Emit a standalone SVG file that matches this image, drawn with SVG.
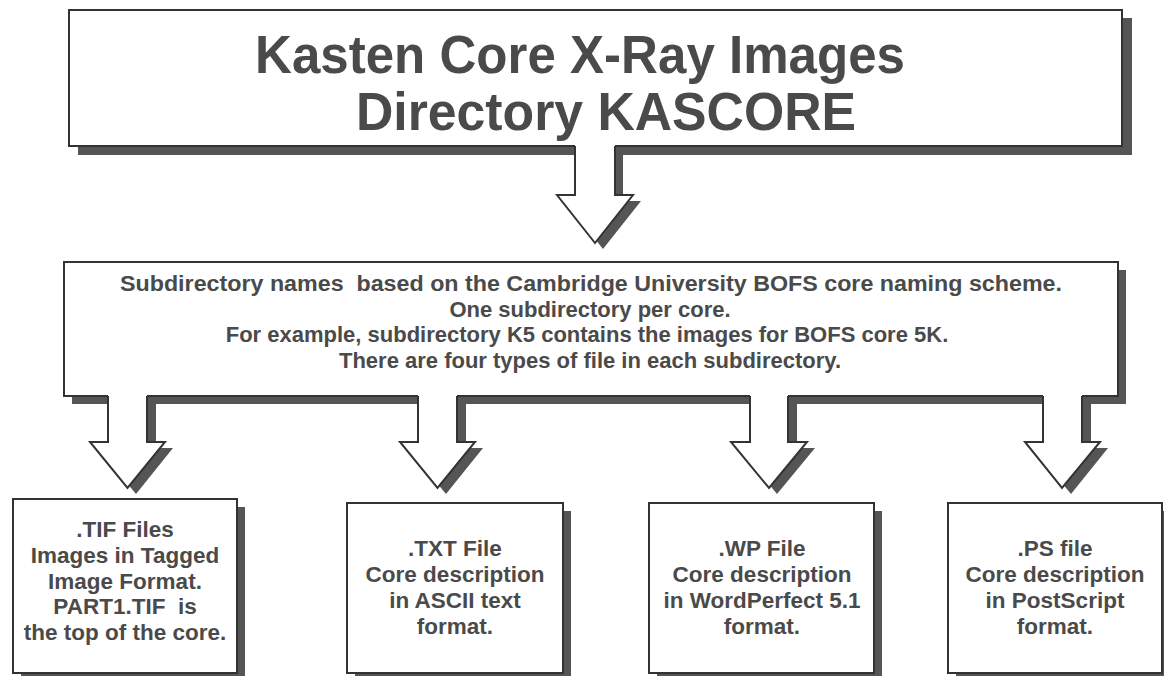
<svg xmlns="http://www.w3.org/2000/svg" width="1164" height="676" viewBox="0 0 1164 676">
<style>
.shadow{fill:#555}
.box{fill:#fff;stroke:#333;stroke-width:2}
.t{font-family:"Liberation Sans",Arial,sans-serif;font-weight:bold;fill:#4a4a4a;text-anchor:middle}
.title{font-size:54px}
.sub{font-size:22px;white-space:pre}
.lbl{font-size:22.5px;white-space:pre}
.afill{fill:#fff;stroke:none}
.aline{fill:none;stroke:#333;stroke-width:2;stroke-linejoin:miter}
</style>
<rect width="1164" height="676" fill="#fff"/>

<g id="title-node">
  <rect class="shadow" x="78" y="18" width="1054" height="137"/>
  <rect class="box" x="69" y="10" width="1053" height="136"/>
  <text class="t title" x="580" y="73" textLength="650" lengthAdjust="spacingAndGlyphs">Kasten Core X-Ray Images</text>
  <text class="t title" x="606" y="130" textLength="500" lengthAdjust="spacingAndGlyphs">Directory KASCORE</text>
</g>

<g id="subdir-node">
  <rect class="shadow" x="72" y="270" width="1054" height="134"/>
  <rect class="box" x="64" y="262" width="1054" height="134"/>
  <text class="t sub" x="591" y="291" textLength="942" lengthAdjust="spacingAndGlyphs">Subdirectory names  based on the Cambridge University BOFS core naming scheme.</text>
  <text class="t sub" x="590" y="317">One subdirectory per core.</text>
  <text class="t sub" x="587" y="342">For example, subdirectory K5 contains the images for BOFS core 5K.</text>
  <text class="t sub" x="590" y="368">There are four types of file in each subdirectory.</text>
</g>

<g id="tif-node">
  <rect class="shadow" x="21" y="507" width="224" height="180"/>
  <rect class="box" x="13" y="499" width="224" height="174"/>
  <text class="t lbl" x="125" y="537">.TIF Files</text>
  <text class="t lbl" x="125" y="563">Images in Tagged</text>
  <text class="t lbl" x="125" y="589">Image Format.</text>
  <text class="t lbl" x="125" y="614">PART1.TIF  is</text>
  <text class="t lbl" x="125" y="640">the top of the core.</text>
</g>

<g id="txt-node">
  <rect class="shadow" x="355" y="511" width="216" height="176"/>
  <rect class="box" x="347" y="503" width="216" height="170"/>
  <text class="t lbl" x="455" y="556">.TXT File</text>
  <text class="t lbl" x="455" y="582">Core description</text>
  <text class="t lbl" x="455" y="608">in ASCII text</text>
  <text class="t lbl" x="455" y="634">format.</text>
</g>

<g id="wp-node">
  <rect class="shadow" x="657" y="511" width="225" height="176"/>
  <rect class="box" x="649" y="503" width="225" height="170"/>
  <text class="t lbl" x="762" y="556">.WP File</text>
  <text class="t lbl" x="762" y="582">Core description</text>
  <text class="t lbl" x="762" y="608">in WordPerfect 5.1</text>
  <text class="t lbl" x="762" y="634">format.</text>
</g>

<g id="ps-node">
  <rect class="shadow" x="956" y="511" width="216" height="176"/>
  <rect class="box" x="948" y="503" width="214" height="170"/>
  <text class="t lbl" x="1055" y="556">.PS file</text>
  <text class="t lbl" x="1055" y="582">Core description</text>
  <text class="t lbl" x="1055" y="608">in PostScript</text>
  <text class="t lbl" x="1055" y="634">format.</text>
</g>

<g id="connectors">
  <!-- title to subdirectory -->
  <polygon class="shadow" points="583,147 623,147 623,201 641,201 603,249 565,201 583,201"/>
  <polygon class="afill" points="575,145 615,145 615,195 633,195 595,243 557,195 575,195"/>
  <polyline class="aline" points="575,146 575,195 557,195 595,243 633,195 615,195 615,146"/>

  <!-- to .TIF -->
  <polygon class="shadow" points="116,397 156,397 156,448 173,448 136,494 98,448 116,448"/>
  <polygon class="afill" points="108,395 147,395 147,442 165,442 127.5,488 90,442 108,442"/>
  <polyline class="aline" points="108,396 108,442 90,442 127.5,488 165,442 147,442 147,396"/>

  <!-- to .TXT -->
  <polygon class="shadow" points="426,397 466,397 466,448 483,448 446,494 408,448 426,448"/>
  <polygon class="afill" points="418,395 457,395 457,442 475,442 437.5,488 400,442 418,442"/>
  <polyline class="aline" points="418,396 418,442 400,442 437.5,488 475,442 457,442 457,396"/>

  <!-- to .WP -->
  <polygon class="shadow" points="758,397 797,397 797,448 815,448 777,494 739,448 758,448"/>
  <polygon class="afill" points="750,395 788,395 788,442 807,442 769,488 731,442 750,442"/>
  <polyline class="aline" points="750,396 750,442 731,442 769,488 807,442 788,442 788,396"/>

  <!-- to .PS -->
  <polygon class="shadow" points="1051,397 1091,397 1091,448 1108,448 1071,494 1033,448 1051,448"/>
  <polygon class="afill" points="1043,395 1082,395 1082,442 1100,442 1062,488 1025,442 1043,442"/>
  <polyline class="aline" points="1043,396 1043,442 1025,442 1062,488 1100,442 1082,442 1082,396"/>
</g>
</svg>
